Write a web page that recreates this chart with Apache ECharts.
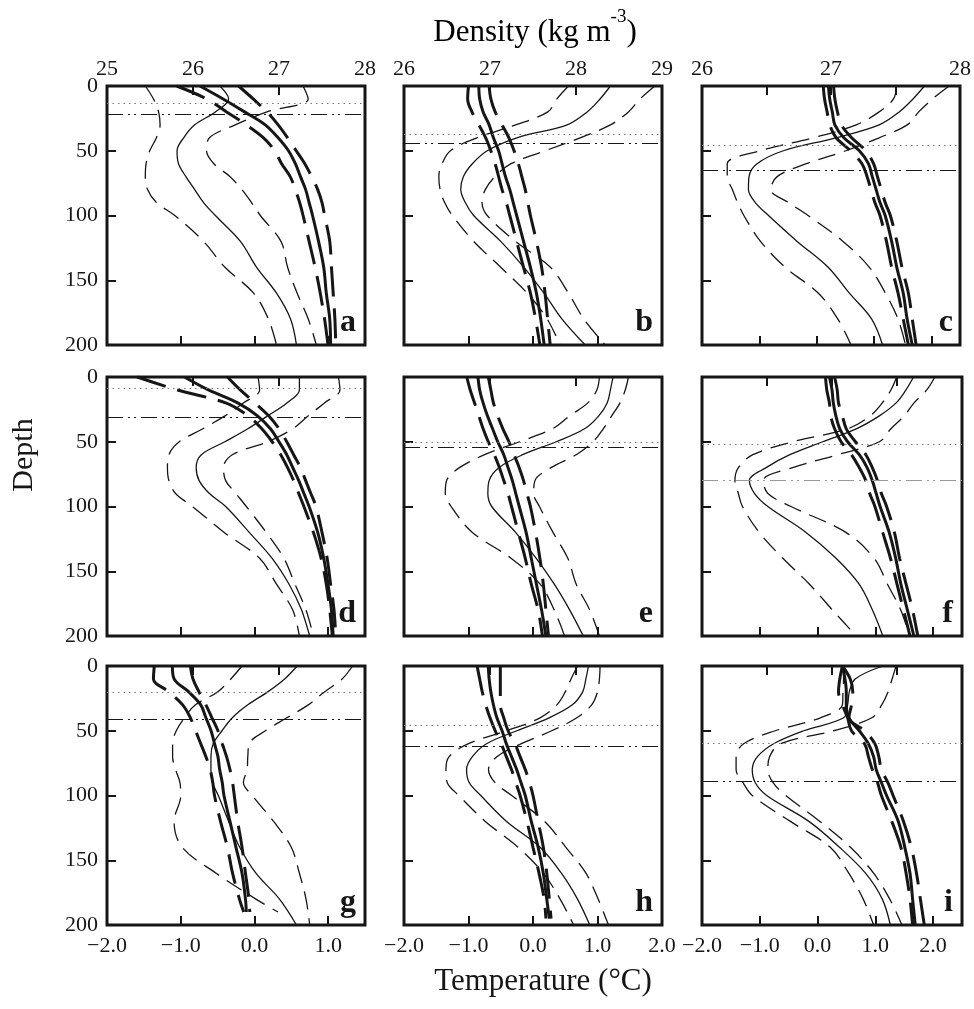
<!DOCTYPE html>
<html>
<head>
<meta charset="utf-8">
<script src="https://cdn.jsdelivr.net/npm/echarts@6.0.0/dist/echarts.min.js"></script>
<style>
  html, body { margin: 0; padding: 0; background: #fff; }
  #chart { width: 974px; height: 1009px; }
</style>
</head>
<body>
<div id="chart"></div>
<script>
// depth levels (m) used by the profiles
const depthStd = [0, 10, 20, 30, 40, 50, 60, 70, 80, 90, 100, 120, 140, 160, 180, 200];
const depthTo190 = [0, 10, 20, 30, 40, 50, 60, 70, 80, 90, 100, 120, 140, 160, 180, 190];
const depthTo195 = [0, 10, 20, 30, 40, 50, 60, 70, 80, 90, 100, 120, 140, 160, 180, 195];

// panel a
const aTempLo = [-1.48, -1.37, -1.30, -1.28, -1.33, -1.42, -1.47, -1.48, -1.45, -1.33, -1.08, -0.69, -0.40, -0.01, 0.19, 0.30];
const aTemp = [-0.47, -0.35, -0.53, -0.81, -0.96, -1.05, -1.03, -0.93, -0.81, -0.69, -0.53, -0.19, 0.03, 0.30, 0.49, 0.57];
const aTempHi = [0.66, 0.73, 0.17, -0.26, -0.61, -0.65, -0.55, -0.33, -0.17, -0.04, 0.08, 0.36, 0.45, 0.58, 0.73, 0.84];
const aDensLo = [25.81, 26.16, 26.39, 26.62, 26.82, 26.95, 27.03, 27.13, 27.19, 27.24, 27.28, 27.35, 27.42, 27.48, 27.53, 27.57];
const aDens = [26.08, 26.35, 26.60, 26.84, 26.99, 27.11, 27.19, 27.25, 27.31, 27.35, 27.39, 27.46, 27.52, 27.55, 27.59, 27.60];
const aDensHi = [26.53, 26.70, 26.86, 26.99, 27.10, 27.20, 27.30, 27.38, 27.45, 27.50, 27.53, 27.59, 27.61, 27.63, 27.65, 27.66];

// panel b
const bTempLo = [0.55, 0.37, 0.23, -0.27, -0.87, -1.28, -1.41, -1.46, -1.44, -1.37, -1.25, -0.92, -0.50, -0.09, 0.22, 0.42];
const bTemp = [1.20, 1.04, 0.84, 0.53, -0.25, -0.71, -0.94, -1.08, -1.12, -1.05, -0.92, -0.50, -0.14, 0.17, 0.45, 0.81];
const bTempHi = [1.89, 1.66, 1.48, 1.20, 0.73, 0.19, -0.34, -0.59, -0.74, -0.79, -0.71, -0.27, 0.27, 0.55, 0.79, 1.12];
const bDensLo = [26.75, 26.74, 26.79, 26.87, 26.95, 27.01, 27.06, 27.10, 27.14, 27.19, 27.23, 27.31, 27.39, 27.47, 27.53, 27.58];
const bDens = [26.87, 26.88, 26.92, 26.99, 27.04, 27.10, 27.14, 27.18, 27.23, 27.27, 27.31, 27.39, 27.47, 27.54, 27.59, 27.63];
const bDensHi = [26.99, 27.01, 27.06, 27.14, 27.22, 27.28, 27.33, 27.37, 27.41, 27.44, 27.47, 27.54, 27.60, 27.64, 27.67, 27.70];

// panel c
const cTempLo = [1.39, 1.34, 1.09, 0.69, -0.06, -0.98, -1.56, -1.56, -1.47, -1.38, -1.27, -0.98, -0.55, 0.03, 0.37, 0.60];
const cTemp = [1.88, 1.68, 1.44, 1.09, 0.34, -0.58, -1.04, -1.18, -1.19, -1.07, -0.84, -0.34, 0.20, 0.57, 0.96, 1.15];
const cTempHi = [2.31, 2.02, 1.78, 1.58, 1.09, 0.51, -0.18, -0.69, -0.80, -0.49, -0.15, 0.46, 0.92, 1.20, 1.42, 1.55];
const cDensLo = [26.94, 26.95, 26.97, 26.99, 27.04, 27.15, 27.24, 27.28, 27.31, 27.34, 27.38, 27.43, 27.47, 27.52, 27.56, 27.60];
const cDens = [26.98, 26.99, 27.01, 27.03, 27.10, 27.22, 27.29, 27.32, 27.35, 27.38, 27.42, 27.47, 27.51, 27.56, 27.59, 27.63];
const cDensHi = [27.02, 27.03, 27.05, 27.08, 27.16, 27.27, 27.33, 27.36, 27.39, 27.42, 27.46, 27.51, 27.55, 27.60, 27.63, 27.66];

// panel d
const dTempLo = [0.05, 0.07, -0.15, -0.40, -0.70, -1.02, -1.16, -1.18, -1.16, -1.07, -0.84, -0.41, 0.07, 0.30, 0.52, 0.61];
const dTemp = [0.61, 0.61, 0.44, 0.18, -0.09, -0.40, -0.72, -0.79, -0.75, -0.61, -0.39, -0.07, 0.24, 0.47, 0.64, 0.75];
const dTempHi = [1.14, 1.16, 0.95, 0.73, 0.52, 0.18, -0.30, -0.42, -0.39, -0.25, -0.11, 0.16, 0.40, 0.55, 0.70, 0.80];
const dDensLo = [25.35, 25.82, 26.38, 26.64, 26.80, 26.92, 27.02, 27.10, 27.17, 27.23, 27.29, 27.40, 27.49, 27.55, 27.59, 27.62];
const dDens = [25.90, 26.18, 26.52, 26.75, 26.90, 27.00, 27.09, 27.16, 27.23, 27.29, 27.35, 27.45, 27.52, 27.57, 27.61, 27.63];
const dDensHi = [26.40, 26.55, 26.72, 26.88, 27.00, 27.09, 27.17, 27.25, 27.31, 27.37, 27.43, 27.50, 27.56, 27.60, 27.64, 27.66];

// panel e
const eTempLo = [1.03, 0.99, 0.85, 0.57, 0.30, -0.21, -0.75, -1.14, -1.34, -1.36, -1.27, -0.94, -0.34, 0.11, 0.33, 0.49];
const eTemp = [1.24, 1.20, 1.15, 1.02, 0.80, 0.36, -0.16, -0.53, -0.68, -0.70, -0.64, -0.27, 0.05, 0.33, 0.57, 0.78];
const eTempHi = [1.48, 1.43, 1.35, 1.22, 1.09, 0.93, 0.67, 0.28, 0.03, 0.01, 0.10, 0.31, 0.54, 0.67, 0.88, 1.03];
const eDensLo = [26.73, 26.77, 26.82, 26.87, 26.92, 26.98, 27.05, 27.11, 27.16, 27.21, 27.25, 27.33, 27.41, 27.48, 27.56, 27.61];
const eDens = [26.86, 26.88, 26.92, 26.97, 27.03, 27.09, 27.16, 27.21, 27.26, 27.30, 27.34, 27.42, 27.48, 27.54, 27.60, 27.65];
const eDensHi = [26.98, 27.01, 27.04, 27.09, 27.15, 27.22, 27.28, 27.34, 27.39, 27.43, 27.47, 27.53, 27.58, 27.62, 27.65, 27.68];

// panel f
const fTempLo = [1.37, 1.27, 1.12, 0.91, 0.52, -0.43, -1.12, -1.37, -1.43, -1.37, -1.30, -1.01, -0.60, -0.14, 0.26, 0.67];
const fTemp = [1.66, 1.53, 1.36, 1.07, 0.67, 0.09, -0.48, -0.89, -1.18, -1.09, -0.86, -0.20, 0.32, 0.72, 0.95, 1.13];
const fTempHi = [2.03, 1.89, 1.67, 1.50, 1.27, 1.07, 0.35, -0.43, -0.94, -0.86, -0.46, 0.49, 0.98, 1.21, 1.44, 1.59];
const fDensLo = [26.95, 26.96, 26.98, 26.99, 27.02, 27.07, 27.15, 27.21, 27.26, 27.29, 27.33, 27.39, 27.45, 27.50, 27.55, 27.60];
const fDens = [26.98, 27.00, 27.01, 27.03, 27.06, 27.12, 27.21, 27.27, 27.31, 27.34, 27.37, 27.44, 27.49, 27.53, 27.58, 27.63];
const fDensHi = [27.02, 27.04, 27.05, 27.08, 27.11, 27.18, 27.26, 27.31, 27.35, 27.38, 27.42, 27.48, 27.52, 27.57, 27.62, 27.66];

// panel g
const gTempLo = [-0.17, -0.32, -0.50, -0.80, -0.95, -1.06, -1.11, -1.11, -1.07, -1.01, -1.00, -1.09, -0.98, -0.52, 0.02, 0.32];
const gTemp = [0.58, 0.41, 0.18, -0.09, -0.30, -0.44, -0.56, -0.59, -0.59, -0.57, -0.49, -0.35, -0.20, 0.02, 0.34, 0.57];
const gTempHi = [1.33, 1.19, 0.95, 0.73, 0.44, 0.15, -0.07, -0.09, -0.10, -0.15, -0.03, 0.26, 0.50, 0.61, 0.70, 0.75];
const gDensLo = [25.55, 25.54, 25.72, 25.88, 25.97, 26.03, 26.09, 26.15, 26.20, 26.23, 26.25, 26.32, 26.40, 26.46, 26.54, 26.59];
const gDens = [25.76, 25.78, 25.95, 26.09, 26.15, 26.21, 26.25, 26.29, 26.31, 26.34, 26.36, 26.43, 26.50, 26.57, 26.61, 26.62];
const gDensHi = [25.97, 26.00, 26.07, 26.15, 26.22, 26.29, 26.34, 26.39, 26.43, 26.46, 26.48, 26.52, 26.57, 26.61, 26.65, 26.66];

// panel h
const hTempLo = [0.69, 0.59, 0.50, 0.37, 0.11, -0.41, -1.00, -1.30, -1.35, -1.33, -1.15, -0.74, -0.23, 0.16, 0.42, 0.63];
const hTemp = [0.86, 0.82, 0.77, 0.61, 0.25, -0.25, -0.72, -0.94, -1.03, -0.99, -0.81, -0.41, 0.11, 0.44, 0.69, 0.88];
const hTempHi = [1.04, 1.03, 1.00, 0.91, 0.68, 0.29, -0.18, -0.56, -0.69, -0.59, -0.33, 0.18, 0.51, 0.82, 1.01, 1.17];
const hDensLo = [26.85, 26.88, 26.91, 26.95, 27.00, 27.06, 27.13, 27.19, 27.25, 27.30, 27.35, 27.43, 27.50, 27.57, 27.63, 27.65];
const hDens = [26.98, 26.99, 27.01, 27.04, 27.08, 27.14, 27.19, 27.25, 27.31, 27.36, 27.41, 27.48, 27.56, 27.62, 27.66, 27.69];
const hDensHi = [27.12, 27.12, 27.12, 27.12, 27.16, 27.21, 27.29, 27.35, 27.41, 27.46, 27.50, 27.56, 27.62, 27.66, 27.69, 27.71];

// panel i
const iTempLo = [0.45, 0.45, 0.44, 0.43, 0.05, -0.73, -1.28, -1.41, -1.41, -1.29, -1.13, -0.47, 0.22, 0.54, 0.79, 0.97];
const iTemp = [1.13, 0.65, 0.55, 0.52, 0.45, -0.24, -0.76, -1.04, -1.13, -1.08, -0.88, -0.15, 0.38, 0.83, 1.12, 1.26];
const iTempHi = [1.36, 1.29, 1.22, 1.11, 0.94, 0.28, -0.64, -0.83, -0.86, -0.77, -0.55, 0.04, 0.57, 0.97, 1.25, 1.46];
const iDensLo = [27.08, 27.06, 27.05, 27.08, 27.12, 27.15, 27.25, 27.28, 27.31, 27.35, 27.38, 27.46, 27.53, 27.57, 27.60, 27.62];
const iDens = [27.08, 27.10, 27.11, 27.11, 27.13, 27.21, 27.28, 27.32, 27.34, 27.38, 27.42, 27.51, 27.56, 27.60, 27.62, 27.64];
const iDensHi = [27.08, 27.14, 27.16, 27.15, 27.13, 27.25, 27.33, 27.36, 27.38, 27.43, 27.47, 27.55, 27.61, 27.65, 27.68, 27.71];

// horizontal reference depths per panel (dotted / dash-dot-dot)
const dottedDepth = [13, 37, 46, 9, 50, 52, 20, 46, 60];
const dashDotDepth = [22, 44, 65, 31, 54, 80, 41, 62, 89];
const panelLetters = ["a", "b", "c", "d", "e", "f", "g", "h", "i"];

// axis ranges per column
const tempMin = [-2, -2, -2];
const tempMax = [1.5, 2, 2.5];
const densMin = [25, 26, 26];
const densMax = [28, 29, 28];
const densStep = [1, 1, 0.5];

const panels = [
  { t: [aTempLo, aTemp, aTempHi], d: [aDensLo, aDens, aDensHi], tz: [depthStd, depthStd, depthStd], dz: depthStd },
  { t: [bTempLo, bTemp, bTempHi], d: [bDensLo, bDens, bDensHi], tz: [depthStd, depthStd, depthStd], dz: depthStd },
  { t: [cTempLo, cTemp, cTempHi], d: [cDensLo, cDens, cDensHi], tz: [depthStd, depthStd, depthStd], dz: depthStd },
  { t: [dTempLo, dTemp, dTempHi], d: [dDensLo, dDens, dDensHi], tz: [depthStd, depthStd, depthStd], dz: depthStd },
  { t: [eTempLo, eTemp, eTempHi], d: [eDensLo, eDens, eDensHi], tz: [depthStd, depthStd, depthStd], dz: depthStd },
  { t: [fTempLo, fTemp, fTempHi], d: [fDensLo, fDens, fDensHi], tz: [depthStd, depthStd, depthStd], dz: depthStd },
  { t: [gTempLo, gTemp, gTempHi], d: [gDensLo, gDens, gDensHi], tz: [depthTo190, depthStd, depthStd], dz: depthTo190 },
  { t: [hTempLo, hTemp, hTempHi], d: [hDensLo, hDens, hDensHi], tz: [depthStd, depthStd, depthStd], dz: depthTo195 },
  { t: [iTempLo, iTemp, iTempHi], d: [iDensLo, iDens, iDensHi], tz: [depthStd, depthStd, depthStd], dz: depthStd },
];

const FONT = "'Liberation Serif', 'DejaVu Serif', serif";
const INK = "#161616";
const colLeft = [107, 404, 702];
const colWidth = [258, 258, 260];
const rowTop = [86, 377, 666];
const rowHeight = 259;

// 線型
const thinSolid = { color: INK, width: 1.3, type: "solid" };
const thinDash = { color: INK, width: 1.3, type: [18, 9] };
const thickSolid = { color: INK, width: 3, type: "solid" };
const thickDash = { color: INK, width: 3, type: [30, 12] };

function pairs(values, depths) {
  return values.map((v, i) => [v, depths[i]]);
}

function fmtTemp(v) {
  return (v < 0 ? "\u2212" : "") + Math.abs(v).toFixed(1);
}

const grid = [];
const xAxis = [];
const yAxis = [];
const series = [];
const graphic = [];

const tick = { inside: true, length: 9, lineStyle: { color: INK, width: 2 } };
const noLine = { show: false, onZero: false };
const labelBase = { fontFamily: FONT, fontSize: 22, color: INK };

panels.forEach((panel, p) => {
  const r = Math.floor(p / 3);
  const c = p % 3;
  grid.push({
    left: colLeft[c],
    top: rowTop[r],
    width: colWidth[c],
    height: rowHeight,
    show: true,
    borderColor: INK,
    borderWidth: 3,
    backgroundColor: "transparent",
  });
  // 溫度 (bottom)
  xAxis.push({
    gridIndex: p,
    type: "value",
    position: "bottom",
    min: tempMin[c],
    max: tempMax[c],
    interval: 1,
    axisLine: noLine,
    axisTick: tick,
    splitLine: { show: false },
    axisLabel: {
      ...labelBase,
      show: r === 2,
      margin: 10,
      showMaxLabel: c === 1,
      formatter: fmtTemp,
    },
  });
  // 密度 (top)
  xAxis.push({
    gridIndex: p,
    type: "value",
    position: "top",
    min: densMin[c],
    max: densMax[c],
    interval: densStep[c],
    axisLine: noLine,
    axisTick: tick,
    splitLine: { show: false },
    axisLabel: {
      ...labelBase,
      show: r === 0,
      margin: 6,
      formatter: (v) => (Number.isInteger(v) ? String(v) : ""),
    },
  });
  yAxis.push({
    gridIndex: p,
    type: "value",
    position: "left",
    inverse: true,
    min: 0,
    max: 200,
    interval: 50,
    axisLine: noLine,
    axisTick: tick,
    splitLine: { show: false },
    axisLabel: { ...labelBase, show: c === 0, margin: 9 },
  });

  const common = {
    type: "line",
    yAxisIndex: p,
    showSymbol: false,
    symbol: "none",
    smooth: 0.35,
    silent: true,
    animation: false,
    z: 3,
  };
  const tStyles = [thinDash, thinSolid, thinDash];
  const dStyles = [thickDash, thickSolid, thickDash];
  panel.t.forEach((vals, k) => {
    const s = {
      ...common,
      xAxisIndex: 2 * p,
      data: pairs(vals, panel.tz[k]),
      lineStyle: tStyles[k],
    };
    if (k === 1) {
      s.markLine = {
        silent: true,
        symbol: ["none", "none"],
        animation: false,
        label: { show: false },
        data: [
          { yAxis: dottedDepth[p], lineStyle: { color: "#777", width: 1, type: [1.5, 4] } },
          {
            yAxis: dashDotDepth[p],
            lineStyle: { color: p === 5 ? "#999" : INK, width: 1.2, type: [16, 5, 2, 4, 2, 5] },
          },
        ],
      };
    }
    series.push(s);
  });
  panel.d.forEach((vals, k) => {
    series.push({
      ...common,
      xAxisIndex: 2 * p + 1,
      data: pairs(vals, panel.dz),
      lineStyle: dStyles[k],
    });
  });

  graphic.push({
    type: "text",
    x: colLeft[c] + colWidth[c] - 9,
    y: rowTop[r] + rowHeight - 22,
    style: {
      text: panelLetters[p],
      fontFamily: FONT,
      fontSize: 32,
      fontWeight: "bold",
      fill: INK,
      align: "right",
      verticalAlign: "middle",
    },
  });
});

graphic.push(
  {
    type: "text",
    x: 535,
    y: 28,
    style: {
      text: "{a|Density (kg m}{s|-3}{a|)}",
      align: "center",
      verticalAlign: "middle",
      rich: {
        a: { fontFamily: FONT, fontSize: 31, color: INK, lineHeight: 40, verticalAlign: "bottom" },
        s: { fontFamily: FONT, fontSize: 19, color: INK, lineHeight: 22, verticalAlign: "top" },
      },
    },
  },
  {
    type: "text",
    x: 543,
    y: 982,
    style: {
      text: "Temperature (\u00b0C)",
      fontFamily: FONT,
      fontSize: 31,
      fill: INK,
      align: "center",
      verticalAlign: "middle",
    },
  },
  {
    type: "text",
    x: 24,
    y: 455,
    rotation: Math.PI / 2,
    style: {
      text: "Depth",
      fontFamily: FONT,
      fontSize: 30,
      fill: INK,
      align: "center",
      verticalAlign: "middle",
    },
  }
);

const chart = echarts.init(document.getElementById("chart"), null, { renderer: "canvas" });
chart.setOption({
  backgroundColor: "#fff",
  animation: false,
  grid,
  xAxis,
  yAxis,
  series,
  graphic,
});
</script>
</body>
</html>
